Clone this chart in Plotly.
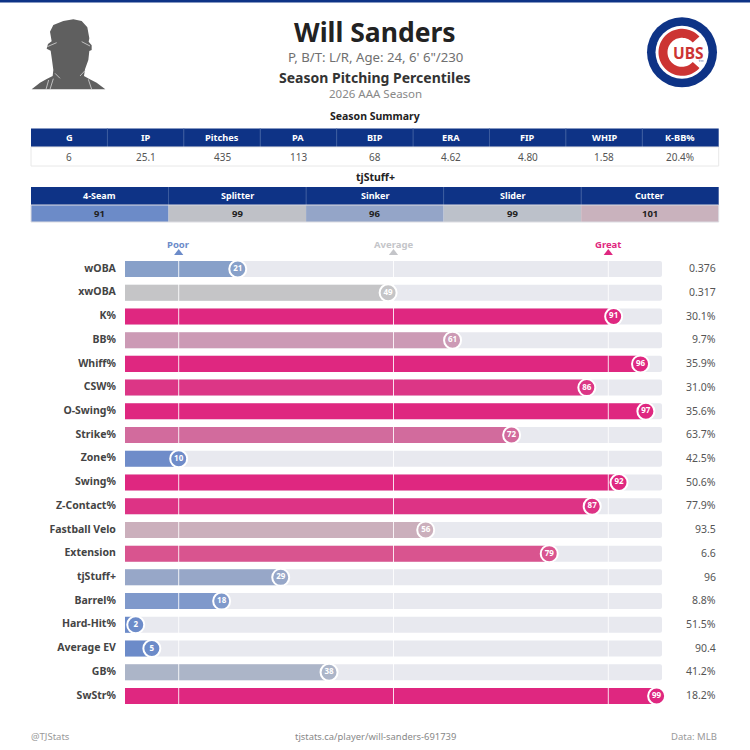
import numpy as np
import plotly.graph_objects as go

# Percentile rows
metrics = ["wOBA", "xwOBA", "K%", "BB%", "Whiff%", "CSW%", "O-Swing%", "Strike%", "Zone%", "Swing%",
           "Z-Contact%", "Fastball Velo", "Extension", "tjStuff+", "Barrel%", "Hard-Hit%", "Average EV",
           "GB%", "SwStr%"]
percentiles = [21, 49, 91, 61, 96, 86, 97, 72, 10, 92, 87, 56, 79, 29, 18, 2, 5, 38, 99]
stat_values = ["0.376", "0.317", "30.1%", "9.7%", "35.9%", "31.0%", "35.6%", "63.7%", "42.5%", "50.6%",
               "77.9%", "93.5", "6.6", "96", "8.8%", "51.5%", "90.4", "41.2%", "18.2%"]
bar_colors = ["#87a0c9", "#c5c5c7", "#df2780", "#cc9ab5", "#df2780", "#dc3686", "#df2780", "#d26b9d",
              "#6f8cc9", "#df2780", "#dd3385", "#cbafbc", "#d9548f", "#97a7c8", "#7f99cb", "#6c8bc9",
              "#6c8bc9", "#acb5c8", "#df2780"]

# Season summary table
summary_headers = ["G", "IP", "Pitches", "PA", "BIP", "ERA", "FIP", "WHIP", "K-BB%"]
summary_values = ["6", "25.1", "435", "113", "68", "4.62", "4.80", "1.58", "20.4%"]

# Pitch quality table
pitch_names = ["4-Seam", "Splitter", "Sinker", "Slider", "Cutter"]
pitch_scores = ["91", "99", "96", "99", "101"]
pitch_colors = ["#6c8bc8", "#bfc1c7", "#94a5c8", "#bcc1ca", "#c9b2bd"]

# Reference markers along the percentile scale
ref_labels = ["Poor", "Average", "Great"]
ref_positions = [10, 50, 90]
ref_colors = ["#6c8bc9", "#c4c5c9", "#df2780"]

FONT = "Noto Sans"
NAVY = "#0e3386"
RED = "#cc3433"
SIZE = 750
ROW0, ROW_STEP = 269, 23.72
TABLE_LEFT, TABLE_RIGHT = 31, 718.7


def px(x):
    return x / SIZE


def py(y):
    return 1 - y / SIZE


def poly(points):
    body = "L".join(f"{px(x):.5f},{py(y):.5f}" for x, y in points)
    return f"M{body}Z"


def stroke(a, b, color, width):
    return dict(type="line", xref="paper", yref="paper", x0=px(a[0]), y0=py(a[1]), x1=px(b[0]), y1=py(b[1]),
                line=dict(color=color, width=width))


def circle(cx, cy, r, color):
    return dict(type="circle", xref="paper", yref="paper", x0=px(cx - r), x1=px(cx + r),
                y0=py(cy + r), y1=py(cy - r), fillcolor=color, line_width=0, layer="above")


def rect(x0, y0, x1, y1, fill, line=None):
    return dict(type="rect", xref="paper", yref="paper", x0=px(x0), x1=px(x1), y0=py(y1), y1=py(y0),
                fillcolor=fill, line=dict(color=line, width=1) if line else dict(width=0), layer="below")


def label(text, x, y, size, color, bold=False, anchor="center", xref="paper"):
    return dict(text=f"<b>{text}</b>" if bold else text, x=x, y=py(y), xref=xref, yref="paper",
                xanchor=anchor, yanchor="middle", showarrow=False,
                font=dict(family=FONT, size=size, color=color))


def grid_table(headers, cells, fills, top, mid, bottom, head_size, cell_size, cell_color, cell_bold, edge):
    """Header band plus one row of cells, laid out in equal columns."""
    parts, texts = [], []
    step = (TABLE_RIGHT - TABLE_LEFT) / len(headers)
    for i, (head, cell, fill) in enumerate(zip(headers, cells, fills)):
        x0 = TABLE_LEFT + i * step
        x1 = x0 + step
        parts.append(rect(x0, top, x1, mid, NAVY))
        parts.append(rect(x0, mid, x1, bottom, fill))
        if i:
            parts.append(stroke((x0, top), (x0, mid), "#3a5a9e", 1))
        texts.append(label(head, px((x0 + x1) / 2), (top + mid) / 2, head_size, "white", bold=True))
        texts.append(label(cell, px((x0 + x1) / 2), (mid + bottom) / 2, cell_size, cell_color, bold=cell_bold))
    parts.append(dict(type="rect", xref="paper", yref="paper", x0=px(TABLE_LEFT), x1=px(TABLE_RIGHT),
                      y0=py(bottom), y1=py(mid), fillcolor="rgba(0,0,0,0)", line=dict(color=edge, width=1)))
    return parts, texts


rows = list(range(len(metrics)))
fig = go.Figure()

# Track, fill, reference lines, then the percentile badges
fig.add_trace(go.Bar(y=rows, x=[100] * len(rows), orientation="h", width=0.675,
                     marker=dict(color="#e8e9ef", line_width=0), hoverinfo="skip"))
fig.add_trace(go.Bar(y=rows, x=percentiles, orientation="h", width=0.675,
                     marker=dict(color=bar_colors, line_width=0), hoverinfo="skip"))
for pos in ref_positions:
    fig.add_trace(go.Scatter(x=[pos, pos], y=[-0.34, len(rows) - 0.66], mode="lines",
                             line=dict(color="rgba(255,255,255,0.85)", width=1), hoverinfo="skip"))
fig.add_trace(go.Scatter(x=percentiles, y=rows, mode="markers+text", text=[str(p) for p in percentiles],
                         textposition="middle center", cliponaxis=False,
                         textfont=dict(family=FONT, size=8, color="white", weight=700),
                         marker=dict(size=17, color=bar_colors, line=dict(color="white", width=2)),
                         hoverinfo="skip"))
fig.add_trace(go.Scatter(x=ref_positions, y=[-0.675] * 3, mode="markers", cliponaxis=False,
                         marker=dict(symbol="triangle-up", size=8, color=ref_colors, line_width=0),
                         hoverinfo="skip"))

# Header band, player silhouette and club badge
shapes = [dict(type="rect", xref="paper", yref="paper", x0=0, x1=1, y0=py(2.5), y1=1,
               fillcolor=NAVY, line_width=0)]

head = [(5, 238), (30, 218), (50, 207), (68, 198), (70, 180), (66, 150), (62, 122), (50, 116), (54, 102),
        (65, 94), (60, 65), (70, 45), (100, 33), (130, 28), (155, 33), (172, 52), (178, 85), (176, 95),
        (185, 106), (185, 120), (178, 123), (175, 150), (165, 178), (162, 198), (178, 207), (200, 218),
        (226, 238)]
to_page = lambda p: (30 + p[0] / 3, 10 + p[1] / 3)
shapes.append(dict(type="path", xref="paper", yref="paper", path=poly([to_page(p) for p in head]),
                   fillcolor="#5f5f5f", line_width=0))
for seg in [[(52, 110), (80, 98)], [(155, 95), (180, 108)], [(75, 190), (90, 205)], [(165, 182), (150, 198)],
            [(48, 238), (56, 210)], [(60, 238), (70, 206)], [(185, 238), (175, 208)]]:
    shapes.append(stroke(to_page(seg[0]), to_page(seg[1]), "#d8d8d8", 0.8))

cx, cy = 682, 52.3
shapes += [circle(cx, cy, 35, NAVY), circle(cx, cy, 26.5, "white")]
theta = np.radians(np.linspace(42, 318, 60))
outer = [(cx + 23.5 * np.cos(t), cy + 23.5 * np.sin(t)) for t in theta]
inner = [(cx + 14.5 * np.cos(t), cy + 14.5 * np.sin(t)) for t in theta[::-1]]
shapes.append(dict(type="path", xref="paper", yref="paper", path=poly(outer + inner),
                   fillcolor=RED, line_width=0, layer="above"))
# Trademark mark on the badge, small enough to be a pair of strokes
for a, b in [((698.5, 60), (700.5, 60)), ((699.5, 60), (699.5, 62)), ((701, 62), (701, 60)),
             ((701, 60), (702, 61.5)), ((702, 61.5), (703, 60)), ((703, 60), (703, 62))]:
    shapes.append(stroke(a, b, "#7f8fb8", 0.5))

# Titles, row values, scale labels and footer
notes = [
    label("Will Sanders", px(375), 32, 26.5, "#222222", bold=True),
    label("P, B/T: L/R, Age: 24, 6' 6\"/230", px(375), 56.5, 13.2, "#707070"),
    label("Season Pitching Percentiles", px(375), 77, 14, "#333333", bold=True),
    label("2026 AAA Season", px(375), 93.5, 11.5, "#888888"),
    label("Season Summary", px(375), 115.5, 10.5, "#222222", bold=True),
    label("tjStuff+", px(375), 176.5, 10.5, "#222222", bold=True),
    label("@TJStats", px(29), 736, 9.5, "#999999", anchor="left"),
    label("tjstats.ca/player/will-sanders-691739", px(375), 736, 9.4, "#888888"),
    label("Data: MLB", px(719), 736, 9.5, "#999999", anchor="right"),
    label("UBS", px(688.5), 52.5, 15.5, RED, bold=True),
]
for name, pos, color in zip(ref_labels, ref_positions, ref_colors):
    notes.append(label(name, pos, 244.5, 9.5, color, bold=True, xref="x"))
for i, val in enumerate(stat_values):
    notes.append(label(val, px(718), ROW0 - 0.8 + ROW_STEP * i, 10.5, "#555555", anchor="right"))

# Summary tables
for table in [
    grid_table(summary_headers, summary_values, ["white"] * len(summary_values), 128.5, 147, 166,
               9.2, 10, "#555555", False, "#e8e8e8"),
    grid_table(pitch_names, pitch_scores, pitch_colors, 187, 205, 222, 9, 9.5, "#222222", True, "#dcdce2"),
]:
    shapes += table[0]
    notes += table[1]

fig.update_layout(
    width=SIZE, height=SIZE, margin=dict(l=0, r=0, t=0, b=0), showlegend=False,
    paper_bgcolor="white", plot_bgcolor="rgba(0,0,0,0)", barmode="overlay", barcornerradius=2,
    xaxis=dict(domain=[px(125), px(662)], range=[0, 100], visible=False, fixedrange=True),
    yaxis=dict(domain=[0, 1], range=[(SIZE - ROW0) / ROW_STEP, -ROW0 / ROW_STEP], tickmode="array",
               tickvals=rows, ticktext=[f"<b>{m}</b>" for m in metrics], showgrid=False, zeroline=False,
               showline=False, ticks="outside", ticklen=6, tickcolor="rgba(0,0,0,0)", fixedrange=True,
               ticklabelshift=1, tickfont=dict(family=FONT, size=10.5, color="#444444")),
    shapes=shapes, annotations=notes,
)

fig.write_html("out.html", config=dict(displayModeBar=False))
